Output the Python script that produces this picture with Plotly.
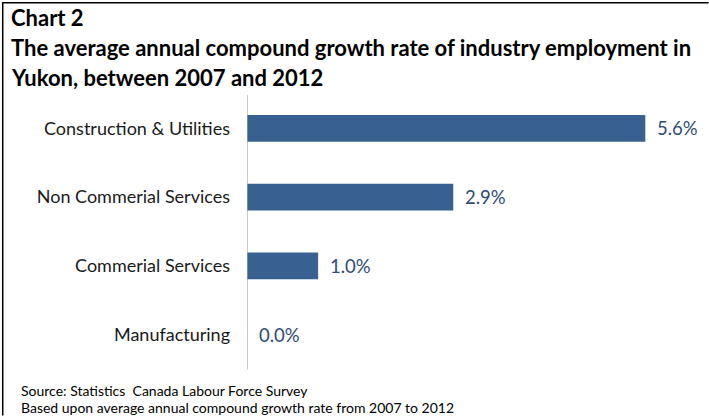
import plotly.graph_objects as go

categories = ["Construction & Utilities", "Non Commerial Services", "Commerial Services", "Manufacturing"]
values = [5.6, 2.9, 1.0, 0.0]
value_labels = ["5.6%", "2.9%", "1.0%", "0.0%"]

title_lines = ["Chart 2",
               "The average annual compound growth rate of industry employment in",
               "Yukon, between 2007 and 2012"]
source_lines = ["Source: Statistics  Canada Labour Force Survey",
                "Based upon average annual compound growth rate from 2007 to 2012"]

W, H = 709, 416
ML, MR, MT, MB = 247, 20.6, 94, 46.5
PW, PH = W - ML - MR, H - MT - MB
FONT = "Lato"
BAR = "#386192"
LBL = "#2E4B73"

def px(x):
    return (x - ML) / PW

def py(y):
    return (H - MB - y) / PH

fig = go.Figure(go.Bar(
    x=values, y=categories, orientation="h",
    marker=dict(color=BAR, line=dict(width=0)),
    hoverinfo="skip",
))

annotations = []
for v, c, t in zip(values, categories, value_labels):
    annotations.append(dict(x=v, y=c, xref="x", yref="y", text=t, showarrow=False,
                            xanchor="left", yanchor="middle", xshift=10,
                            font=dict(family=FONT, size=18.5, color=LBL)))

for i, (t, yp) in enumerate(zip(title_lines, [17, 47, 77])):
    annotations.append(dict(x=px(9), y=py(yp), xref="paper", yref="paper", text=t,
                            showarrow=False, xanchor="left", yanchor="middle",
                            font=dict(family=FONT, size=22, color="#000000", weight="bold")))

for t, yp in zip(source_lines, [391, 408]):
    annotations.append(dict(x=px(19), y=py(yp), xref="paper", yref="paper", text=t,
                            showarrow=False, xanchor="left", yanchor="middle",
                            font=dict(family=FONT, size=14, color="#000000")))

shapes = [
    dict(type="line", xref="paper", yref="paper", x0=px(2), x1=px(709), y0=py(2.5), y1=py(2.5),
         line=dict(color="#000000", width=1.5)),
    dict(type="line", xref="paper", yref="paper", x0=px(2.5), x1=px(2.5), y0=py(2), y1=py(416),
         line=dict(color="#000000", width=1.5)),
]

fig.update_layout(
    width=W, height=H,
    margin=dict(l=ML, r=MR, t=MT, b=MB, pad=0),
    paper_bgcolor="white", plot_bgcolor="white",
    showlegend=False,
    bargap=0.61,
    annotations=annotations,
    shapes=shapes,
    xaxis=dict(range=[0, 6.2], visible=False, fixedrange=True),
    yaxis=dict(autorange="reversed", showgrid=False, zeroline=False,
               showline=False, ticks="", ticklabelstandoff=16,
               tickfont=dict(family=FONT, size=18, color="#1a1a1a"), fixedrange=True),
)
fig.add_shape(type="line", xref="x", yref="paper", x0=0, x1=0, y0=py(370), y1=py(95),
              line=dict(color="#A6A6A6", width=1.2))

fig.write_html("out.html", config={"displayModeBar": False},
               post_script="document.body.style.margin='0';document.body.style.overflow='hidden';")
